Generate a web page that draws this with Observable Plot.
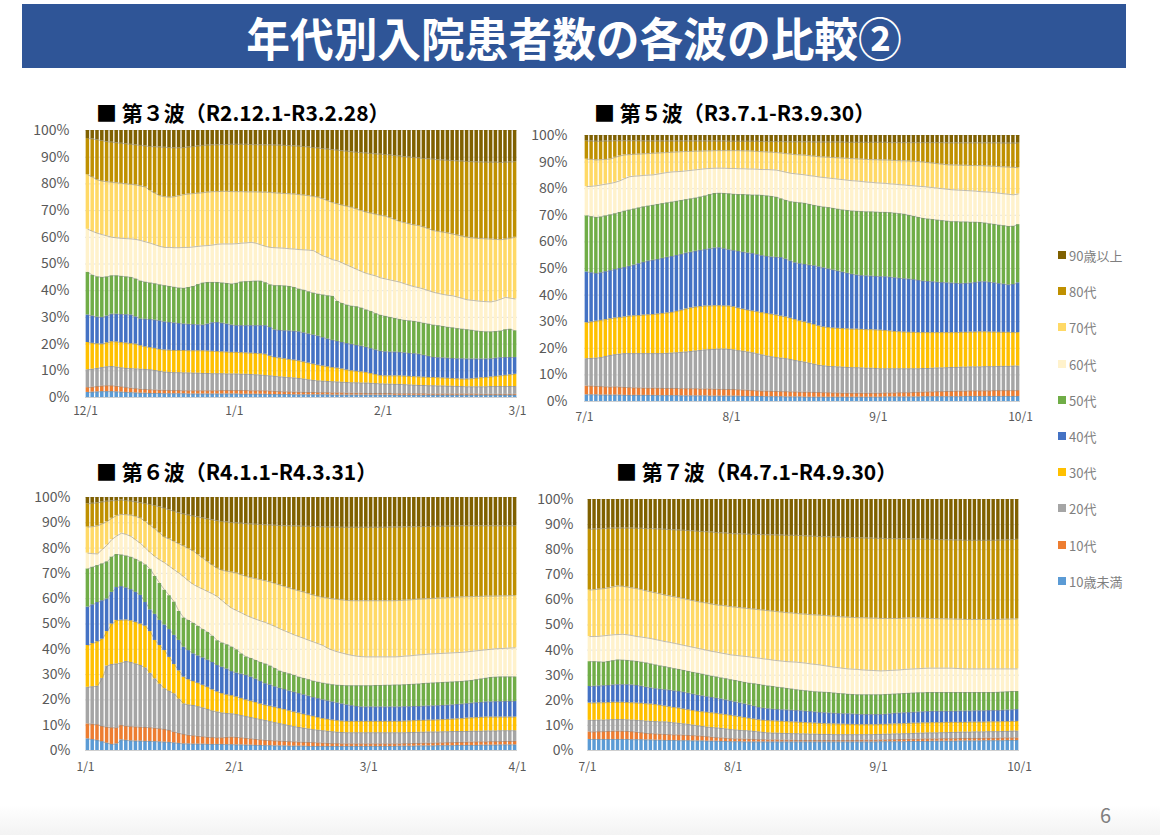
<!DOCTYPE html>
<html><head><meta charset="utf-8">
<script src="https://cdn.jsdelivr.net/npm/d3@7"></script>
<script src="https://cdn.jsdelivr.net/npm/@observablehq/plot@0.6"></script>
<style>
html,body{margin:0;padding:0;background:#fff;}
body{width:1160px;height:835px;position:relative;overflow:hidden;font-family:"Noto Sans CJK JP","Noto Sans",sans-serif;}
#header{position:absolute;left:22px;top:4px;width:1104px;height:64px;background:#2F5597;text-align:center;}
#header span{display:inline-block;color:#fff;font-weight:700;font-size:46px;line-height:64px;transform:scaleX(0.95);white-space:nowrap;}
.ptitle{position:absolute;font-weight:700;font-size:21px;color:#000;white-space:nowrap;line-height:26px;}
.panel{position:absolute;}
#legend{position:absolute;left:1058px;top:246px;font-size:13px;color:#7f7f7f;}
#legend .it{height:36.2px;display:flex;align-items:flex-start;white-space:nowrap;}
#legend .sw{width:8px;height:8px;margin-right:3px;margin-top:5px;}
#pageno{position:absolute;left:1100px;top:800px;font-size:20px;color:#7f7f7f;}
#foot{position:absolute;left:0;top:805px;width:1160px;height:30px;background:linear-gradient(#ffffff,#f3f3f3);}
</style></head>
<body>
<div id="foot"></div>
<div id="header"><span id="htext"></span></div>
<div id="titles"></div>
<div id="p3" class="panel"></div>
<div id="p5" class="panel"></div>
<div id="p6" class="panel"></div>
<div id="p7" class="panel"></div>
<div id="legend"></div>
<div id="pageno">6</div>
<script>
// ---------- text ----------
const mainTitle = "年代別入院患者数の各波の比較②";
const ageGroups = ["10歳未満","10代","20代","30代","40代","50代","60代","70代","80代","90歳以上"];
const ageColors = ["#5B9BD5","#ED7D31","#A5A5A5","#FFC000","#4472C4","#70AD47","#FFF2CC","#FFD966","#BF9000","#7F6000"];

// ---------- 第3波 (daily, cumulative share % up to and including each age group; 90歳以上 tops at 100) ----------
const w3_title = "■ 第３波（R2.12.1-R3.2.28）";
const w3_start = "2020-12-01";
const w3_tickDates = ["2020-12-01","2021-01-01","2021-02-01","2021-03-01"];
const w3_tickLabels = ["12/1","1/1","2/1","3/1"];
const w3_under10 = [1.9,2,2.1,2.2,2.2,2.2,2.1,2,1.9,1.8,
1.7,1.6,1.6,1.5,1.5,1.5,1.4,1.4,1.4,1.4,
1.4,1.3,1.3,1.3,1.3,1.3,1.3,1.3,1.3,1.3,
1.3,1.3,1.2,1.2,1.2,1.2,1.2,1.2,1.1,1.1,
1.1,1.1,1.1,1,1,1,1,1,1,1,
1,0.9,0.9,0.9,0.9,0.9,0.9,0.9,0.9,0.9,
0.9,0.9,0.9,0.9,0.8,0.8,0.8,0.8,0.8,0.8,
0.8,0.8,0.8,0.8,0.8,0.8,0.8,0.8,0.8,0.8,
0.8,0.8,0.8,0.8,0.8,0.8,0.8,0.8,0.8,0.8];
const w3_10s = [3.7,3.9,4.1,4.3,4.4,4.4,4.2,4,3.7,3.5,
3.3,3.1,3,2.9,2.8,2.7,2.7,2.6,2.6,2.6,
2.5,2.5,2.5,2.5,2.5,2.5,2.5,2.5,2.6,2.6,
2.6,2.6,2.6,2.6,2.5,2.5,2.5,2.5,2.4,2.3,
2.2,2.1,2.1,2,2,1.9,1.9,1.9,1.8,1.8,
1.8,1.7,1.7,1.7,1.6,1.6,1.6,1.6,1.5,1.5,
1.5,1.5,1.5,1.5,1.4,1.4,1.4,1.4,1.4,1.4,
1.4,1.3,1.3,1.3,1.3,1.3,1.3,1.3,1.3,1.3,
1.3,1.3,1.2,1.2,1.2,1.2,1.2,1.2,1.2,1.2];
const w3_20s = [10.4,10.6,10.9,11.2,11.5,11.6,11.4,11.1,10.9,10.8,
10.7,10.6,10.5,10.4,10.1,9.8,9.5,9.4,9.3,9.3,
9.2,9.2,9.1,9.1,9,9,8.9,8.9,8.9,8.8,
8.8,8.8,8.7,8.7,8.6,8.5,8.4,8.2,8.1,7.9,
7.7,7.6,7.4,7.3,7.1,6.9,6.6,6.4,6.2,6.1,
6,5.9,5.8,5.7,5.6,5.5,5.5,5.4,5.4,5.3,
5.2,5.1,5,5,4.9,4.9,4.8,4.7,4.6,4.5,
4.5,4.4,4.4,4.3,4.3,4.2,4.2,4.1,4.1,4,
4,4,4,4,4.1,4.1,4.1,4.1,4.1,4.1];
const w3_30s = [20.6,20.3,20.1,20,20.5,20.9,20.8,20.6,20.4,20.2,
20,19.4,19,18.7,18.4,18,17.8,17.7,17.6,17.6,
17.6,17.5,17.5,17.5,17.5,17.4,17.3,17.2,17.1,17,
16.9,16.9,16.8,16.7,16.6,16.5,16.4,16.2,15.5,15,
14.8,14.5,14.2,14,13.7,13.3,12.9,12.5,12.1,11.8,
11.5,11.2,11,10.7,10.3,10,9.8,9.6,9.4,9,
8.6,8.2,8.1,8.1,8.1,8.1,8,7.9,7.8,7.7,
7.6,7.5,7.5,7.4,7.3,7.2,7.1,7,6.9,6.9,
7,7.2,7.4,7.5,7.7,7.9,8.1,8.3,8.5,8.7];
const w3_40s = [30.9,30.5,30.1,30,30.5,31.2,31.2,31.1,31,30.9,
30.2,29.4,29.3,29.2,29,28.7,28.3,28.1,27.9,27.7,
27.5,27.4,27.3,27.2,27.1,27.5,28,28.1,27.8,27.5,
27.1,26.9,26.9,26.9,26.9,26.9,26.9,26.9,26.2,25.3,
25.1,25,24.9,24.8,24.6,24.2,23.8,23.4,23,22.4,
21.9,21.4,21,20.6,20.2,19.9,19.5,19.2,18.8,18.3,
17.8,17.3,17.1,17,17,16.9,16.7,16.5,16.4,16.2,
15.8,15.4,15,14.9,14.8,14.7,14.6,14.5,14.5,14.4,
14.4,14.4,14.4,14.4,14.5,14.7,14.9,15,15,15];
const w3_50s = [46.9,45.8,45.2,45,45.2,45.6,45.6,45.4,45.2,45,
44.4,43.6,43.2,42.9,42.6,42.2,41.9,41.6,41.3,41,
40.9,41.2,41.6,42.3,42.9,43.1,43.1,43.1,42.9,42.7,
42.5,42.8,43.3,43.4,43.5,43.6,43.6,43,42.2,41.9,
41.9,41.8,41.6,41.2,40.6,40.2,39.6,39.1,38.7,38.4,
38.1,37.9,36,35.2,34.6,34.2,34,33.5,32.8,32.2,
31.4,30.8,30.4,30,29.6,29.2,28.9,28.7,28.5,28.2,
27.8,27.5,27.1,26.9,26.6,26.3,26.1,25.8,25.6,25.4,
25.2,24.9,24.7,24.6,24.6,24.7,24.9,25.4,25.6,25];
const w3_60s = [63,62.2,61.5,61,60.5,60,59.8,59.6,59.5,59.4,
59.2,58.8,58.3,57.8,57.2,56.6,56.2,56.2,56.1,56.1,
56.2,56.2,56.4,56.6,56.8,56.9,57.1,57.4,57.5,57.5,
57.5,57.6,57.8,57.9,58.1,57.8,57.2,56.6,56.2,56.1,
56,55.9,55.7,55.6,55.4,55.3,55.2,55,54,53,
52.4,51.6,51.2,50.4,49.6,48.8,48,47.2,46.5,46,
45.5,44.8,44.4,44,43.6,43.2,42.6,42,41.5,41.1,
40.6,40,39.4,39,38.6,38.3,38.1,37.6,37.1,36.6,
36.4,36.2,36,35.9,35.8,36.2,36.8,37.5,37.2,36.9];
const w3_70s = [83.4,82.5,81.5,81,80.8,80.6,80.4,80.2,80,79.8,
79.6,79.2,78.8,77.5,76.5,75.6,75.2,75,75.2,75.6,
76,76.2,76.4,76.5,76.7,76.9,77.1,77.1,77.2,77.2,
77.1,77.1,77.1,77,77,77,76.9,76.9,76.8,76.6,
76.5,76.4,76.3,76.2,76,75.8,75.6,75.3,75,74.4,
73.7,73,72.5,72,71.6,71.2,70.6,70,69.4,69,
68.6,68.2,67.9,67.3,66.6,65.9,65.5,65,64.6,64.4,
63.8,63.2,62.5,62.2,61.9,61.6,61.2,60.8,60.4,60,
59.8,59.6,59.5,59.4,59.3,59.2,59.1,59.3,59.6,60];
const w3_80s = [97,96.8,96.5,96.2,95.8,95.6,95.4,95.2,95,94.8,
94.6,94.4,94.2,94,93.9,93.8,93.7,93.6,93.5,93.5,
93.6,93.8,94,94.2,94.4,94.5,94.6,94.6,94.7,94.7,
94.8,94.8,94.8,94.8,94.7,94.7,94.6,94.6,94.6,94.5,
94.5,94.4,94.3,94.2,94.1,94,93.8,93.6,93.4,93.2,
93,92.8,92.6,92.4,92.2,92,91.8,91.7,91.5,91.4,
91.2,91.1,91,90.8,90.6,90.4,90.2,90,89.9,89.7,
89.5,89.4,89.2,89,88.9,88.8,88.7,88.6,88.5,88.4,
88.3,88.2,88.2,88.1,88.1,88.1,88,88.1,88.2,88.3];

// ---------- 第5波 ----------
const w5_title = "■ 第５波（R3.7.1-R3.9.30）";
const w5_start = "2021-07-01";
const w5_tickDates = ["2021-07-01","2021-08-01","2021-09-01","2021-10-01"];
const w5_tickLabels = ["7/1","8/1","9/1","10/1"];
const w5_under10 = [2.5,2.5,2.5,2.4,2.4,2.4,2.4,2.4,2.3,2.3,
2.3,2.3,2.3,2.3,2.3,2.2,2.2,2.2,2.2,2.2,
2.1,2.1,2.1,2.1,2.1,2.1,2,2,2,2,
2,2,2,1.9,1.9,1.9,1.9,1.9,1.8,1.8,
1.8,1.8,1.7,1.7,1.7,1.7,1.6,1.6,1.6,1.6,
1.6,1.6,1.6,1.6,1.6,1.6,1.6,1.6,1.6,1.6,
1.6,1.6,1.6,1.7,1.7,1.7,1.7,1.7,1.7,1.7,
1.7,1.8,1.8,1.8,1.8,1.8,1.8,1.8,1.8,1.8,
1.9,1.9,1.9,1.9,1.9,1.9,1.9,1.9,1.9,1.9,
1.9,1.9];
const w5_10s = [5.8,5.8,5.7,5.6,5.5,5.4,5.5,5.4,5.3,5.2,
5.1,5.1,5,5,5,5,4.9,4.9,4.9,4.9,
4.8,4.8,4.8,4.8,4.7,4.7,4.7,4.6,4.6,4.5,
4.5,4.5,4.4,4.3,4.2,4.1,4,3.9,3.9,3.8,
3.8,3.7,3.7,3.6,3.6,3.5,3.5,3.5,3.4,3.4,
3.3,3.3,3.2,3.2,3.1,3.1,3.1,3.1,3.1,3.1,
3.1,3.1,3.1,3.2,3.2,3.2,3.3,3.3,3.3,3.4,
3.5,3.5,3.6,3.6,3.7,3.7,3.8,3.8,3.9,3.9,
3.9,4,4,4,4,4,4.1,4.1,4.1,4.1,
4.1,4.1];
const w5_20s = [16.1,16.2,16.3,16.5,16.9,17.3,17.6,17.8,18,18,
18,18,18,18,18,18,18,18.1,18.2,18.3,
18.5,18.6,18.8,19,19.2,19.4,19.5,19.6,19.7,19.7,
19.6,19.4,19.1,18.9,18.6,18.3,17.9,17.5,17.1,16.8,
16.5,16.3,16.1,15.8,15.4,15.1,14.8,14.4,14,13.6,
13.4,13.2,13.1,13,12.9,12.8,12.7,12.7,12.6,12.5,
12.5,12.4,12.3,12.3,12.3,12.3,12.3,12.3,12.3,12.3,
12.3,12.4,12.4,12.5,12.6,12.6,12.7,12.8,12.8,12.9,
12.9,13,13,13,13.1,13.1,13.1,13.2,13.2,13.2,
13.3,13.3];
const w5_30s = [29.6,29.9,30.2,30.5,30.8,31.1,31.4,31.6,31.8,32.1,
32.2,32.3,32.5,32.6,32.7,32.9,33.1,33.3,33.5,33.9,
34.3,34.8,35.2,35.5,35.7,35.9,35.9,36,36,35.9,
35.9,35.6,35.1,34.7,34.3,34,33.7,33.4,33.1,32.8,
32.5,32.1,31.8,31.3,30.8,30.3,29.9,29.4,28.9,28.4,
28,27.8,27.6,27.5,27.4,27.3,27.2,27.2,27.1,27,
27,26.9,26.8,26.7,26.5,26.3,26.2,26.1,26,26,
25.9,25.9,25.9,25.9,25.9,25.9,25.9,25.9,25.9,26,
26,26.1,26.1,26.2,26.2,26.1,26.1,26,26,26,
25.9,25.9];
const w5_40s = [48.7,48.4,48.1,48.4,48.8,49.2,49.6,50,50.4,50.8,
51.3,51.8,52.3,52.8,53.1,53.4,53.8,54.2,54.5,54.9,
55.3,55.8,56.1,56.5,56.8,57.1,57.4,57.7,57.8,57.4,
57,56.7,56.4,56.1,55.8,55.6,55.2,54.8,54.5,54.3,
54.2,54.1,53.5,52.8,52.1,51.8,51.5,51.2,51,50.6,
50.2,49.8,49.4,49,48.6,48.2,47.8,47.5,47.3,47.2,
47.1,47,46.9,46.9,46.7,46.5,46.3,46.1,46,45.8,
45.5,45.2,45.1,45,44.8,44.7,44.6,44.5,44.4,44.3,
44.4,44.5,44.7,45,45,44.8,44.6,44.3,44.1,43.8,
44,44.6];
const w5_50s = [69.8,69.5,69.2,69.4,69.8,70.2,70.6,71.1,71.6,72,
72.4,72.8,73.2,73.5,73.8,74.1,74.4,74.7,75,75.3,
75.6,75.9,76.2,76.5,76.9,77.3,77.8,78.2,78.3,78.2,
78.1,77.9,77.8,77.8,77.7,77.6,77.6,77.5,77.3,77.1,
76.8,76.2,75.6,75.1,74.9,74.7,74.5,74.1,73.7,73.4,
73.1,72.9,72.6,72.3,72,71.8,71.6,71.5,71.4,71.3,
71.3,71.2,71.1,71.1,71,70.8,70.6,70.4,70,69.6,
69.2,68.8,68.6,68.4,68.2,68,67.8,67.6,67.6,67.5,
67.5,67.4,67.4,67.3,67.1,66.8,66.6,66.3,66.1,65.8,
65.9,66.5];
const w5_60s = [80.8,80.9,81.1,81.4,81.7,82,82.4,83,83.8,84.5,
84.7,84.8,85,85.1,85.2,85.5,85.8,86.1,86.3,86.4,
86.5,86.7,86.9,87.1,87.3,87.5,87.6,87.7,87.7,87.7,
87.6,87.6,87.5,87.5,87.4,87.4,87.3,87.2,87.2,87.1,
87,86.6,86.2,85.8,85.6,85.4,85.2,84.9,84.7,84.4,
84.2,84,83.8,83.6,83.4,83.2,83,82.9,82.7,82.5,
82.4,82.2,82.1,82,81.8,81.7,81.5,81.4,81.2,81.1,
80.9,80.8,80.6,80.4,80.2,80,79.8,79.6,79.5,79.4,
79.3,79.2,79.1,78.9,78.8,78.7,78.5,78.3,78.1,77.9,
77.7,78];
const w5_70s = [91.1,91,90.8,90.9,91,91.2,91.8,92.3,92.7,92.8,
92.9,93,93.1,93.2,93.3,93.4,93.5,93.6,93.7,93.8,
93.9,94,94,94.1,94.1,94.2,94.2,94.3,94.3,94.3,
94.3,94.3,94.3,94.2,94.2,94.1,94,93.9,93.8,93.7,
93.6,93.4,93.2,93,92.8,92.7,92.6,92.4,92.2,92,
91.9,91.8,91.7,91.6,91.5,91.4,91.3,91.2,91.1,91,
90.9,90.9,90.8,90.8,90.7,90.6,90.5,90.5,90.4,90.3,
90.2,90,89.8,89.6,89.4,89.2,89,88.9,88.9,88.8,
88.8,88.7,88.7,88.7,88.6,88.5,88.4,88.3,88.2,88.1,
88,87.9];
const w5_80s = [97.9,97.9,97.8,97.8,97.9,97.9,98,98,98,98,
98,98,97.9,97.9,97.9,97.9,97.9,97.9,97.9,97.9,
97.9,97.9,97.9,97.9,97.9,97.9,97.9,97.9,97.9,97.9,
97.8,97.8,97.8,97.8,97.8,97.8,97.8,97.7,97.7,97.7,
97.7,97.7,97.6,97.6,97.6,97.6,97.6,97.6,97.5,97.5,
97.5,97.5,97.5,97.5,97.5,97.4,97.4,97.4,97.4,97.4,
97.4,97.4,97.4,97.4,97.3,97.3,97.3,97.3,97.3,97.3,
97.3,97.3,97.3,97.3,97.3,97.3,97.2,97.2,97.2,97.2,
97.2,97.2,97.2,97.2,97.2,97.2,97.2,97.2,97.1,97.1,
97.1,97.1];

// ---------- 第6波 ----------
const w6_title = "■ 第６波（R4.1.1-R4.3.31）";
const w6_start = "2022-01-01";
const w6_tickDates = ["2022-01-01","2022-02-01","2022-03-01","2022-04-01"];
const w6_tickLabels = ["1/1","2/1","3/1","4/1"];
const w6_under10 = [4.6,4.3,4,3.5,2.9,2.4,2.6,4.2,4,3.8,
3.7,3.7,3.6,3.6,3.5,3.4,3.3,3.2,3,2.8,
2.6,2.6,2.5,2.5,2.5,2.4,2.4,2.4,2.4,2.3,
2.3,2.2,2.2,2.1,2.1,2,2,1.9,1.9,1.8,
1.8,1.8,1.7,1.7,1.7,1.7,1.6,1.6,1.6,1.6,
1.6,1.6,1.6,1.6,1.6,1.6,1.6,1.6,1.6,1.6,
1.6,1.6,1.6,1.6,1.6,1.7,1.7,1.7,1.7,1.8,
1.8,1.8,1.8,1.9,1.9,1.9,1.9,2,2,2,
2,2,2.1,2.1,2.1,2.1,2.2,2.2,2.2,2.2];
const w6_10s = [10.5,10.4,10.2,9.5,9.2,9,8.9,9.9,9.6,9.4,
9.3,9.2,9.1,9,8.8,8.6,8.3,7.9,7.3,6.8,
6.3,6,5.8,5.6,5.4,5.2,5.1,5,5,5.2,
5.3,5.2,5,4.8,4.6,4.4,4.2,4,3.9,3.8,
3.7,3.6,3.5,3.4,3.3,3.2,3.2,3.1,3,2.9,
2.8,2.7,2.7,2.6,2.6,2.6,2.6,2.6,2.6,2.6,
2.6,2.6,2.6,2.6,2.6,2.6,2.7,2.7,2.8,2.8,
2.9,2.9,2.9,3,3,3.1,3.1,3.2,3.2,3.3,
3.3,3.4,3.4,3.4,3.5,3.5,3.5,3.6,3.6,3.6];
const w6_20s = [25,25.2,25.4,28.5,33.4,34,34.2,34.6,35.2,34.8,
34.2,33.6,32.6,30.5,28.3,26.2,24.4,23.4,22.4,20.3,
18.4,18,17.8,17.3,16.8,16.2,15.6,15.2,14.8,14.6,
14.5,14.2,13.8,13.4,13,12.6,12.2,11.9,11.4,11,
10.6,10.2,9.8,9.4,9.1,8.8,8.5,8.2,8,7.8,
7.6,7.4,7.2,7.1,7,7,7,7,7,7,
7,7,7,7,7,7,7,7.1,7.1,7.2,
7.2,7.3,7.3,7.3,7.4,7.4,7.5,7.5,7.5,7.5,
7.6,7.6,7.6,7.7,7.7,7.7,7.8,7.8,7.8,7.8];
const w6_30s = [41.5,42.3,43,44,47,50,51.4,51.5,51.6,51.3,
50.7,50,49.2,47,43.5,41.5,39.5,36.8,34,31.5,
29,28,27.3,26.6,25.8,25,24,23.2,22.5,22,
21.7,21.2,20.6,20,19.5,19,18.4,17.9,17.5,17.1,
16.6,16.2,15.7,15.2,14.8,14.3,13.9,13.5,13,12.6,
12.3,12,11.8,11.6,11.5,11.5,11.5,11.5,11.5,11.5,
11.5,11.5,11.5,11.5,11.5,11.5,11.6,11.7,11.8,11.9,
11.9,12,12,12.1,12.2,12.3,12.4,12.5,12.6,12.8,
12.9,13,13.1,13.2,13.2,13.2,13.2,13.2,13.2,13.2];
const w6_40s = [56.7,57.6,58.5,59.2,59.9,62.5,64.4,64.8,64.3,63.6,
62.5,61.3,58.5,55.6,53.8,51.4,49.6,47.8,45.5,43.5,
40.8,39.5,38.2,37.4,36.6,35.7,34.8,33.6,32.9,32.2,
31.2,30.6,30.2,29.7,29,28.2,27.3,26.4,25.9,25.2,
24.6,24.1,23.5,23,22.5,22,21.5,20.9,20.5,20,
19.6,19.2,18.8,18.4,18,17.7,17.4,17.2,17.2,17.2,
17.2,17.2,17.2,17.2,17.2,17.2,17.3,17.3,17.4,17.4,
17.5,17.6,17.6,17.7,17.8,17.9,18,18.2,18.3,18.5,
18.7,18.9,19,19.2,19.2,19.3,19.3,19.4,19.4,19.4];
const w6_50s = [71.8,72.5,73.1,73.8,74.6,76.5,77.5,77.3,76.9,76.4,
75.6,74.6,73.4,71.7,68.8,66,63.4,61.2,58.7,55,
52.4,51.4,50.3,49.1,47.8,46.7,45.2,43.4,42.5,41.8,
40.9,39.8,38.2,37,36.4,35.6,34.8,34.2,33.4,32.4,
31.4,30.8,30.3,29.7,29,28.5,28,27.4,27,26.6,
26.3,26,25.8,25.7,25.6,25.6,25.6,25.6,25.6,25.6,
25.7,25.7,25.8,25.8,25.9,25.9,26,26.1,26.2,26.3,
26.5,26.6,26.7,26.8,26.9,27,27.1,27.2,27.3,27.5,
27.7,28,28.3,28.6,28.9,29,29.1,29.1,29.1,29.1];
const w6_60s = [78,77.8,77.7,79.5,81.2,83.4,84.8,85.9,85.4,84.6,
83.2,81.8,80,78.2,76.6,75.3,74.2,72.8,71.4,70.1,
68.6,67,65.6,64.6,63.7,62.8,61.9,60.8,59.2,57.6,
56.2,55.3,54.4,53.4,52.6,51.9,51.2,50.6,49.8,49,
48.1,47.3,46.5,45.7,45,44.3,43.6,42.9,42.2,41.5,
40.4,39.6,39,38.5,38,37.6,37.3,37.1,37,37,
37,37,37,37,37,37.1,37.3,37.4,37.6,37.8,
37.9,38.1,38.2,38.3,38.4,38.5,38.6,38.7,38.8,39,
39.2,39.4,39.6,39.8,40,40.2,40.3,40.4,40.5,40.6];
const w6_70s = [88.3,88.5,88.8,89.6,90.5,91.8,92.9,93.3,93.2,93,
92.5,91.8,90.5,89,87.6,86,84.3,83.6,82.6,81.7,
80.8,79.8,78.8,77.4,76,74.6,73.2,72,71.2,70.8,
70.5,70.1,69.4,68.8,68.3,67.9,67.5,67.1,66.6,66,
65.4,64.8,64.2,63.6,63.1,62.6,62,61.4,60.9,60.5,
60.2,59.9,59.7,59.5,59.3,59.2,59.2,59.2,59.2,59.2,
59.2,59.2,59.2,59.2,59.2,59.3,59.4,59.5,59.7,59.8,
59.9,60,60.1,60.2,60.3,60.4,60.5,60.6,60.7,60.8,
60.8,60.9,60.9,61,61,61,61.1,61.1,61.2,61.2];
const w6_80s = [97.5,97.7,97.9,98.2,98.5,98.7,98.8,99,98.8,98.5,
98.2,97.9,97.6,97.2,96.8,96.3,95.7,95.1,94.5,93.9,
93.4,93,92.6,92.3,91.9,91.5,91.1,90.8,90.5,90.3,
90.1,89.9,89.8,89.6,89.5,89.4,89.3,89.2,89.1,89,
88.9,88.8,88.8,88.7,88.7,88.6,88.6,88.5,88.4,88.4,
88.3,88.3,88.3,88.2,88.2,88.2,88.2,88.2,88.2,88.2,
88.2,88.2,88.2,88.3,88.3,88.3,88.4,88.4,88.4,88.5,
88.5,88.5,88.6,88.6,88.6,88.7,88.7,88.7,88.8,88.8,
88.8,88.8,88.8,88.8,88.8,88.8,88.8,88.8,88.8,88.8];

// ---------- 第7波 ----------
const w7_title = "■ 第７波（R4.7.1-R4.9.30）";
const w7_start = "2022-07-01";
const w7_tickDates = ["2022-07-01","2022-08-01","2022-09-01","2022-10-01"];
const w7_tickLabels = ["7/1","8/1","9/1","10/1"];
const w7_under10 = [4.4,4.4,4.4,4.4,4.4,4.4,4.4,4.4,4.4,4.3,
4.3,4.3,4.2,4.2,4.1,4.1,4,4,4,3.9,
3.9,3.9,3.8,3.8,3.8,3.7,3.7,3.7,3.6,3.6,
3.5,3.5,3.5,3.4,3.4,3.4,3.4,3.4,3.4,3.4,
3.4,3.4,3.4,3.4,3.4,3.4,3.4,3.4,3.4,3.4,
3.4,3.4,3.4,3.4,3.4,3.4,3.4,3.4,3.4,3.4,
3.4,3.4,3.5,3.5,3.5,3.5,3.5,3.5,3.6,3.6,
3.6,3.6,3.6,3.7,3.7,3.7,3.7,3.7,3.7,3.8,
3.8,3.8,3.8,3.8,3.9,3.9,3.9,3.9,3.9,4,
4,4];
const w7_10s = [7.4,7.4,7.5,7.5,7.6,7.7,7.7,7.7,7.6,7.5,
7.3,7.1,6.8,6.7,6.6,6.5,6.4,6.3,6.2,6.2,
6.1,6,5.9,5.8,5.7,5.5,5.3,5.1,5,4.9,
4.7,4.6,4.6,4.5,4.5,4.4,4.3,4.3,4.2,4.2,
4.2,4.1,4.1,4.1,4,4,4,4,4,4,
4,4,4,4,4,4,4,4,4.1,4.1,
4.1,4.1,4.2,4.2,4.3,4.3,4.4,4.4,4.5,4.5,
4.5,4.6,4.6,4.6,4.6,4.7,4.7,4.7,4.7,4.8,
4.8,4.8,4.8,4.8,4.9,4.9,4.9,4.9,5,5,
5,5];
const w7_20s = [12,12,12.1,12.1,12.2,12.3,12.3,12.3,12.2,12.1,
12,11.9,11.7,11.6,11.5,11.4,11.4,11.2,11,10.8,
10.6,10.4,10.1,9.8,9.6,9.3,9.1,9,8.8,8.6,
8.3,8.2,8,7.9,7.8,7.6,7.4,7.2,7,6.9,
6.9,6.8,6.8,6.7,6.7,6.6,6.6,6.5,6.5,6.4,
6.4,6.4,6.3,6.3,6.3,6.3,6.3,6.3,6.3,6.3,
6.3,6.4,6.4,6.5,6.5,6.6,6.6,6.7,6.7,6.8,
6.9,6.9,7,7,7,7.1,7.1,7.2,7.2,7.3,
7.3,7.3,7.4,7.4,7.4,7.5,7.5,7.5,7.6,7.6,
7.7,7.7];
const w7_30s = [18.9,18.9,19,19,19.1,19.2,19.2,19.2,19.1,19,
18.9,18.8,18.6,18.5,18.3,18,17.7,17.4,17.1,16.9,
16.5,16.2,15.9,15.6,15.4,15.2,15,14.8,14.5,14.3,
14,13.7,13.4,13.1,12.8,12.5,12.2,12,11.9,11.8,
11.7,11.6,11.5,11.4,11.3,11.2,11.1,11,10.9,10.8,
10.7,10.6,10.6,10.5,10.5,10.4,10.4,10.3,10.3,10.3,
10.3,10.3,10.4,10.4,10.5,10.6,10.6,10.7,10.8,10.9,
10.9,11,11,11.1,11.1,11.1,11.2,11.2,11.2,11.2,
11.2,11.3,11.3,11.3,11.3,11.4,11.4,11.4,11.5,11.5,
11.6,11.6];
const w7_40s = [25.5,25.6,25.7,25.8,25.9,26.1,26.2,26.2,26.2,26.1,
25.9,25.6,25.2,24.9,24.6,24.4,24.2,24,23.7,23.5,
23.2,22.8,22.4,22,21.7,21.4,21.1,20.8,20.5,20.1,
19.7,19.3,18.9,18.5,18.1,17.6,17.1,16.8,16.6,16.4,
16.3,16.2,16.1,16,15.9,15.8,15.6,15.5,15.3,15.1,
15,14.9,14.8,14.7,14.6,14.6,14.5,14.4,14.3,14.3,
14.3,14.3,14.3,14.4,14.6,14.8,14.9,15,15.1,15.2,
15.3,15.4,15.5,15.6,15.6,15.6,15.6,15.6,15.6,15.7,
15.7,15.7,15.8,15.8,15.8,15.9,15.9,15.9,16,16.1,
16.2,16.3];
const w7_50s = [35.4,35.4,35.3,35.2,35.5,35.8,36.1,36,35.9,35.7,
35.5,35.2,34.9,34.5,34.1,33.7,33.4,33,32.6,32.3,
31.9,31.5,31.1,30.8,30.4,30,29.6,29.3,28.9,28.6,
28.2,27.9,27.5,27.1,26.8,26.6,26.3,26,25.7,25.5,
25.2,25,24.7,24.5,24.2,24,23.8,23.6,23.4,23.3,
23.2,23.1,22.9,22.7,22.6,22.4,22.3,22.2,22.2,22.2,
22.2,22.2,22.2,22.3,22.4,22.5,22.6,22.7,22.8,22.9,
23,23,23.1,23.1,23.1,23.1,23.1,23.1,23.1,23.1,
23.1,23.1,23.1,23.1,23.1,23.1,23.1,23.2,23.3,23.4,
23.5,23.5];
const w7_60s = [45.4,45.4,45.5,45.7,45.9,46.1,46.2,46.3,46.1,45.8,
45.4,45.2,44.9,44.6,44.2,43.8,43.4,43.1,42.7,42.3,
41.9,41.5,41.1,40.7,40.3,39.9,39.5,39.2,38.8,38.5,
38.1,37.9,37.7,37.5,37.3,37,36.8,36.5,36.3,36,
35.8,35.6,35.4,35.3,35.2,35,34.8,34.5,34.3,34.1,
33.8,33.5,33.2,33,32.7,32.5,32.4,32.3,32.1,32,
31.9,31.8,31.7,31.8,31.9,32,32.1,32.3,32.4,32.5,
32.6,32.7,32.8,32.8,32.8,32.8,32.8,32.8,32.7,32.6,
32.5,32.5,32.5,32.5,32.5,32.5,32.5,32.5,32.5,32.5,
32.5,32.5];
const w7_70s = [63.9,64.1,64.3,64.5,64.8,65.2,65.6,65.4,65.1,64.8,
64.5,64.1,63.6,63.2,62.8,62.4,61.9,61.6,61.2,60.9,
60.5,60.1,59.7,59.3,59,58.7,58.3,58,57.8,57.6,
57.3,57.1,56.9,56.7,56.5,56.3,56.1,55.9,55.7,55.5,
55.3,55.1,54.9,54.8,54.6,54.4,54.3,54.1,54,53.9,
53.8,53.6,53.5,53.3,53.2,53.1,53,52.9,52.9,52.8,
52.7,52.7,52.6,52.6,52.6,52.6,52.6,52.7,52.8,52.9,
52.8,52.7,52.6,52.6,52.5,52.5,52.4,52.4,52.3,52.3,
52.2,52.2,52.2,52.2,52.2,52.2,52.2,52.2,52.3,52.3,
52.4,52.4];
const w7_80s = [88.1,88.2,88.3,88.4,88.5,88.6,88.6,88.6,88.6,88.6,
88.5,88.5,88.4,88.4,88.3,88.2,88.1,88,87.9,87.8,
87.7,87.6,87.5,87.3,87.2,87.1,87,86.8,86.7,86.6,
86.4,86.3,86.3,86.2,86.1,86.1,86,86,85.9,85.9,
85.8,85.8,85.7,85.7,85.7,85.6,85.5,85.4,85.3,85.2,
85.2,85.1,85,85,84.9,84.8,84.8,84.7,84.7,84.6,
84.6,84.5,84.5,84.4,84.4,84.4,84.3,84.3,84.3,84.2,
84.2,84.2,84.1,84.1,84,84,83.9,83.9,83.8,83.8,
83.7,83.7,83.7,83.7,83.7,83.7,83.7,83.8,83.8,83.9,
84,84.1];

// ---------- build ----------
document.getElementById("htext").textContent = mainTitle;

const DAY = 864e5;
const parse = s => new Date(s + "T00:00:00Z");

function makePanel(cfg) {
  const start = parse(cfg.start);
  const cum = cfg.cum;
  const n = Math.min(...cum.map(a => a.length));
  const dayAt = i => new Date(start.getTime() + i * DAY);
  const rows = [];
  for (let g = 0; g < 10; g++) {
    for (let i = 0; i < n; i++) {
      rows.push({
        group: ageGroups[g],
        d0: dayAt(i), d1: dayAt(i + 1),
        lo: g === 0 ? 0 : cum[g - 1][i],
        hi: g === 9 ? 100 : cum[g][i]
      });
    }
  }
  const tickDates = cfg.tickDates.map(parse);
  const tickText = new Map(tickDates.map((d, k) => [+d, cfg.tickLabels[k]]));
  const lines = cum.map(arr => arr.slice(0, n).map((v, i) => ({d: new Date(start.getTime() + (i + 0.5) * DAY), v})));
  const chart = Plot.plot({
    width: cfg.w, height: cfg.h,
    marginLeft: cfg.mL, marginRight: cfg.mR, marginTop: cfg.mT, marginBottom: cfg.mB,
    style: {fontFamily: "'Noto Sans CJK JP','Noto Sans',sans-serif", color: "#595959", background: "transparent", overflow: "visible"},
    x: {type: "utc", domain: [start, dayAt(n)]},
    y: {domain: [0, 100]},
    color: {domain: ageGroups, range: ageColors},
    marks: [
      Plot.ruleY(d3.range(10, 101, 10), {stroke: "#d9d9d9", strokeWidth: 0.8}),
      Plot.rect(rows, {x1: "d0", x2: "d1", y1: "lo", y2: "hi", fill: "group", insetLeft: 0.65, insetRight: 0.65}),
      ...lines.map(L => Plot.line(L, {x: "d", y: "v", stroke: "#858585", strokeWidth: 0.6, strokeOpacity: 0.85})),
      Plot.ruleY([0], {stroke: "#d0d0d0", strokeWidth: 1}),
      Plot.axisY({ticks: d3.range(0, 101, 10), tickFormat: d => d + "%", tickSize: 0, tickPadding: cfg.yPad, fontSize: 14, label: null}),
      Plot.axisX({ticks: tickDates, tickFormat: d => tickText.get(+d), tickSize: 0, tickPadding: cfg.xPad, fontSize: 12, label: null})
    ]
  });
  const host = document.getElementById(cfg.id);
  host.style.left = cfg.left + "px";
  host.style.top = cfg.top + "px";
  host.appendChild(chart);

  const t = document.createElement("div");
  t.className = "ptitle";
  t.textContent = cfg.title;
  t.style.left = cfg.tx + "px";
  t.style.top = cfg.ty + "px";
  document.getElementById("titles").appendChild(t);
}

makePanel({id: "p3", title: w3_title, start: w3_start, tickDates: w3_tickDates, tickLabels: w3_tickLabels,
  cum: [w3_under10, w3_10s, w3_20s, w3_30s, w3_40s, w3_50s, w3_60s, w3_70s, w3_80s],
  left: 0, top: 115, w: 530, h: 310, mL: 85, mR: 13, mT: 15, mB: 28, yPad: 16, xPad: 9, tx: 96, ty: 99});
makePanel({id: "p5", title: w5_title, start: w5_start, tickDates: w5_tickDates, tickLabels: w5_tickLabels,
  cum: [w5_under10, w5_10s, w5_20s, w5_30s, w5_40s, w5_50s, w5_60s, w5_70s, w5_80s],
  left: 520, top: 120, w: 520, h: 310, mL: 64, mR: 20, mT: 15, mB: 29, yPad: 17, xPad: 11, tx: 594, ty: 99});
makePanel({id: "p6", title: w6_title, start: w6_start, tickDates: w6_tickDates, tickLabels: w6_tickLabels,
  cum: [w6_under10, w6_10s, w6_20s, w6_30s, w6_40s, w6_50s, w6_60s, w6_70s, w6_80s],
  left: 0, top: 485, w: 530, h: 300, mL: 85, mR: 13, mT: 12, mB: 35, yPad: 15, xPad: 12, tx: 96, ty: 458});
makePanel({id: "p7", title: w7_title, start: w7_start, tickDates: w7_tickDates, tickLabels: w7_tickLabels,
  cum: [w7_under10, w7_10s, w7_20s, w7_30s, w7_40s, w7_50s, w7_60s, w7_70s, w7_80s],
  left: 520, top: 485, w: 520, h: 300, mL: 67, mR: 21, mT: 14, mB: 35, yPad: 14, xPad: 12, tx: 616, ty: 458});

// legend (top group first, as in the reference)
const lg = document.getElementById("legend");
for (let g = ageGroups.length - 1; g >= 0; g--) {
  const it = document.createElement("div");
  it.className = "it";
  const sw = document.createElement("div");
  sw.className = "sw";
  sw.style.background = ageColors[g];
  const tx = document.createElement("span");
  tx.textContent = ageGroups[g];
  it.appendChild(sw); it.appendChild(tx);
  lg.appendChild(it);
}
</script>
</body></html>
